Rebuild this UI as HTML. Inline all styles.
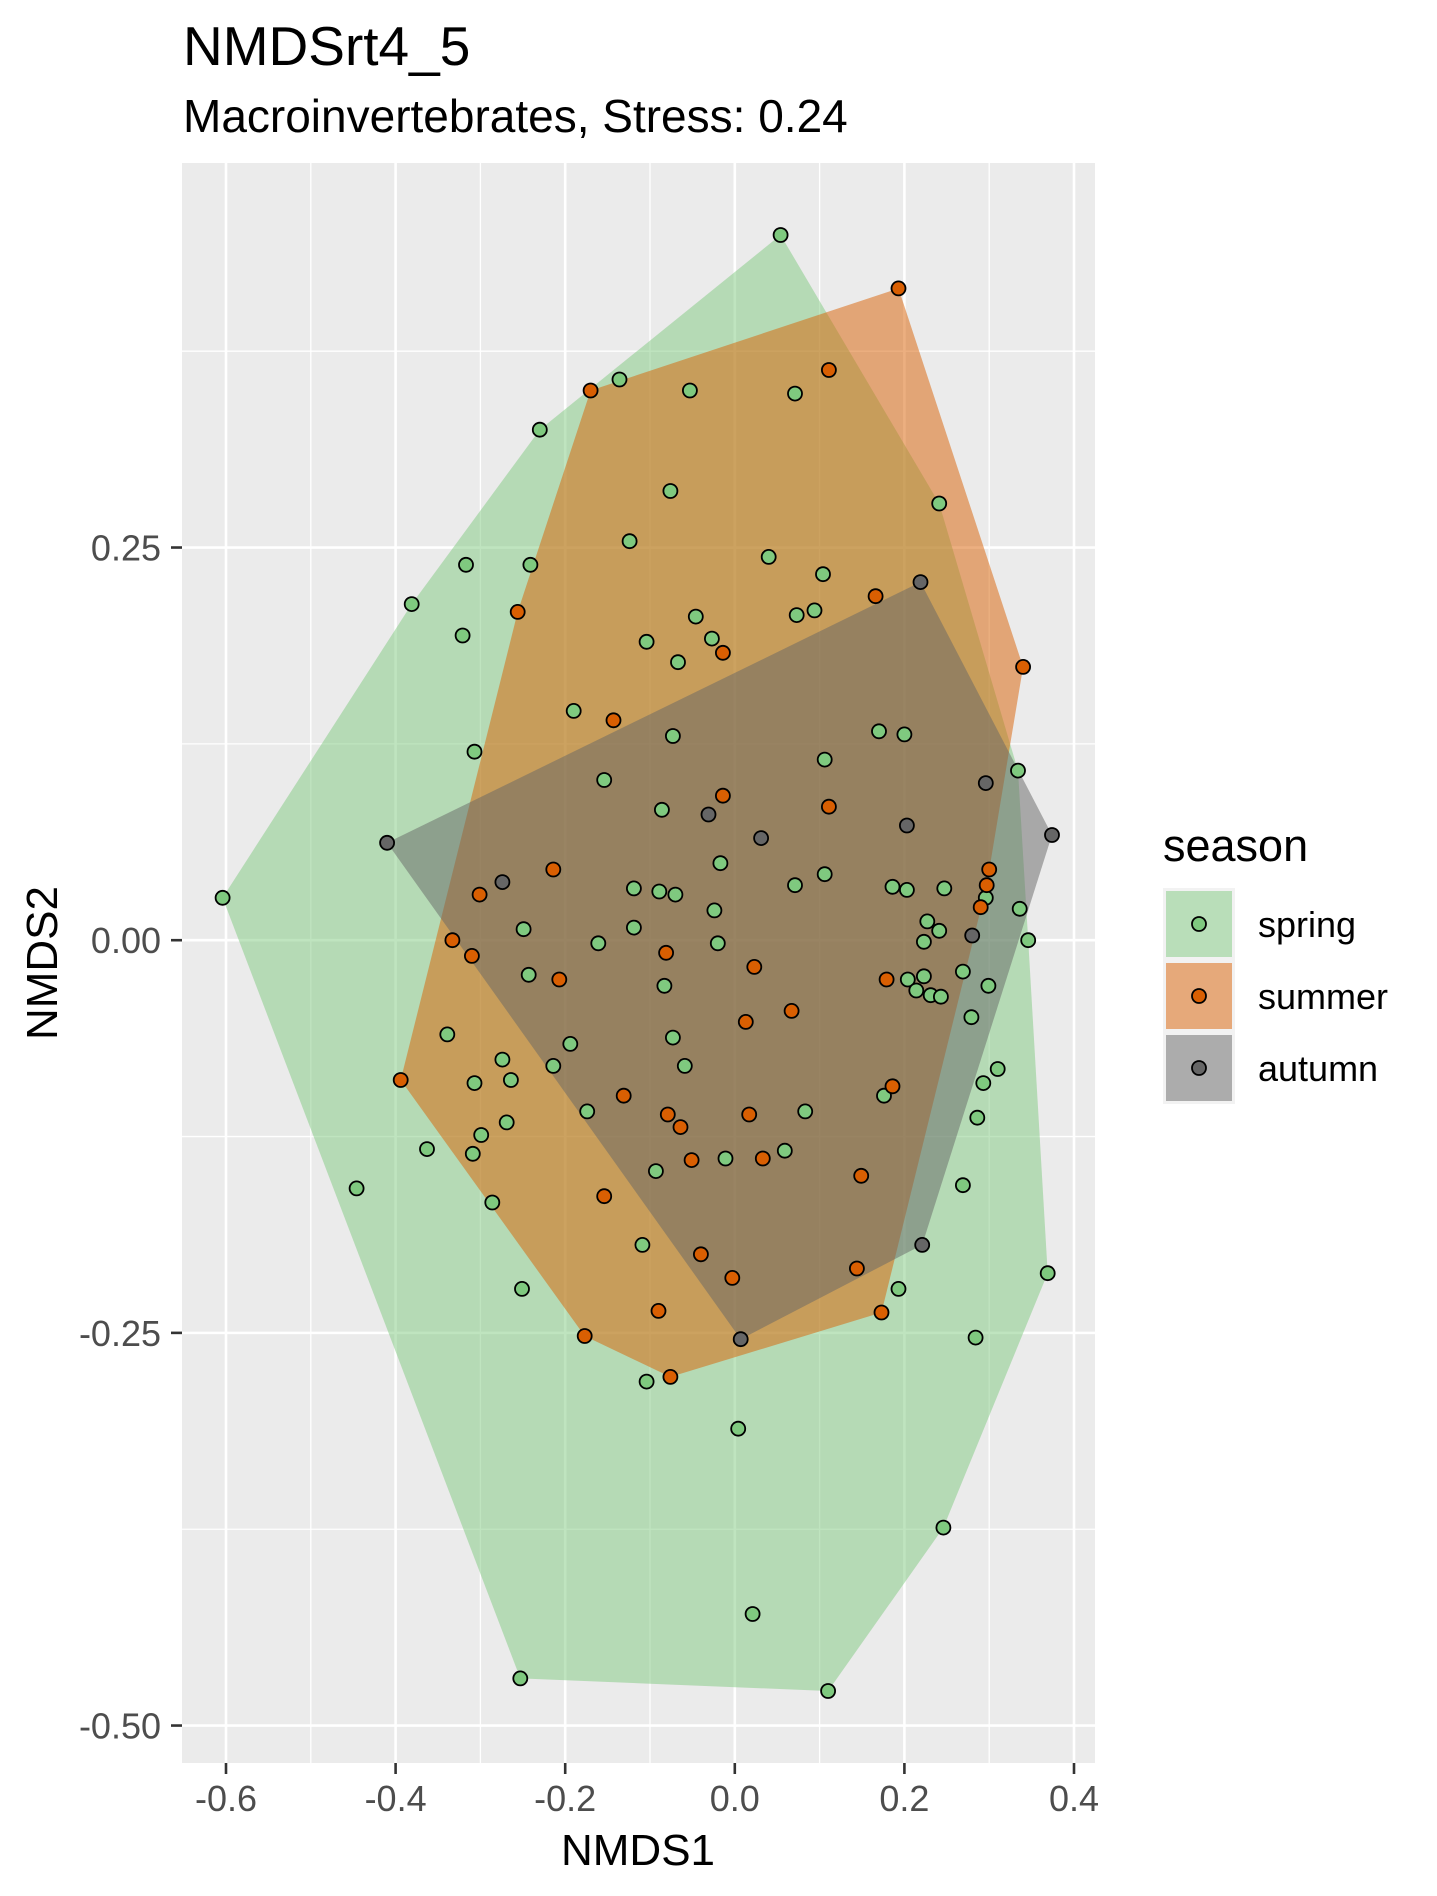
<!DOCTYPE html>
<html><head><meta charset="utf-8"><style>
html,body{margin:0;padding:0;background:#fff;}
svg{display:block;font-family:"Liberation Sans",Arial,sans-serif;}
</style></head>
<body>
<svg id="chart" width="1437" height="1896" viewBox="0 0 1437 1896">
  <text x="183" y="65" font-size="55" fill="#000">NMDSrt4_5</text>
  <text x="183" y="132" font-size="46" fill="#000">Macroinvertebrates, Stress: 0.24</text>
  <rect x="182" y="163" width="913" height="1600" fill="#ebebeb"/>
  <g id="grid"></g>
  <g id="hulls"></g>
  <g id="points"></g>
  <g id="axes"></g>
  <text x="638" y="1865" font-size="44" text-anchor="middle" fill="#000">NMDS1</text>
  <text transform="translate(57,963) rotate(-90)" font-size="44" text-anchor="middle" fill="#000">NMDS2</text>
  <g>
    <text x="1163" y="861" font-size="45" fill="#000">season</text>
    <rect x="1163" y="888" width="72" height="216" fill="#f2f2f2"/>
    <g>
      <rect x="1166" y="891" width="66" height="66" fill="#7fc97f" fill-opacity="0.5"/>
      <circle cx="1199" cy="924" r="7" fill="#7fc97f" stroke="#000" stroke-width="1.8"/>
      <text x="1258" y="937" font-size="36" fill="#000">spring</text>
    </g>
    <g>
      <rect x="1166" y="963" width="66" height="66" fill="#d95f02" fill-opacity="0.5"/>
      <circle cx="1199" cy="996" r="7" fill="#d95f02" stroke="#000" stroke-width="1.8"/>
      <text x="1258" y="1009" font-size="36" fill="#000">summer</text>
    </g>
    <g>
      <rect x="1166" y="1035" width="66" height="66" fill="#666666" fill-opacity="0.5"/>
      <circle cx="1199" cy="1068" r="7" fill="#666666" stroke="#000" stroke-width="1.8"/>
      <text x="1258" y="1081" font-size="36" fill="#000">autumn</text>
    </g>
  </g>
</svg>
<script>
const seasons = ["spring","summer","autumn"];
const springX = [0.054,-0.136,-0.053,0.071,-0.230,-0.076,0.241,-0.124,-0.317,-0.241,0.040,0.104,-0.381,-0.321,0.073,0.094,-0.046,-0.104,-0.027,-0.067,-0.190,-0.073,-0.307,-0.154,0.106,0.170,0.200,0.334,-0.086,-0.017,-0.119,-0.089,-0.070,0.071,0.106,0.186,0.203,0.247,-0.024,-0.249,-0.119,-0.161,-0.020,0.227,0.241,0.223,0.296,0.336,0.346,-0.243,-0.083,0.204,0.223,0.214,0.231,0.243,0.269,0.299,-0.339,-0.073,-0.194,-0.274,-0.307,-0.264,-0.214,-0.059,0.279,0.293,0.310,-0.174,0.083,0.176,-0.363,-0.299,-0.309,-0.269,-0.011,0.059,-0.093,-0.446,-0.286,0.269,0.286,-0.109,-0.251,0.193,0.369,0.284,-0.104,0.004,0.246,0.021,-0.253,0.110,-0.604];
const springY = [0.449,0.357,0.350,0.348,0.325,0.286,0.278,0.254,0.239,0.239,0.244,0.233,0.214,0.194,0.207,0.210,0.206,0.190,0.192,0.177,0.146,0.130,0.120,0.102,0.115,0.133,0.131,0.108,0.083,0.049,0.033,0.031,0.029,0.035,0.042,0.034,0.032,0.033,0.019,0.007,0.008,-0.002,-0.002,0.012,0.006,-0.001,0.027,0.020,0.000,-0.022,-0.029,-0.025,-0.023,-0.032,-0.035,-0.036,-0.020,-0.029,-0.060,-0.062,-0.066,-0.076,-0.091,-0.089,-0.080,-0.080,-0.049,-0.091,-0.082,-0.109,-0.109,-0.099,-0.133,-0.124,-0.136,-0.116,-0.139,-0.134,-0.147,-0.158,-0.167,-0.156,-0.113,-0.194,-0.222,-0.222,-0.212,-0.253,-0.281,-0.311,-0.374,-0.429,-0.470,-0.478,0.027];
const summerX = [0.193,0.111,-0.170,0.166,-0.256,-0.014,0.340,-0.143,-0.014,0.111,-0.214,-0.301,0.300,0.297,0.290,-0.333,-0.310,-0.081,0.023,-0.207,0.179,0.067,0.013,-0.394,-0.131,0.186,-0.079,0.017,-0.064,-0.051,0.033,-0.154,0.149,-0.040,-0.003,0.144,-0.090,0.173,-0.177,-0.076];
const summerY = [0.415,0.363,0.350,0.219,0.209,0.183,0.174,0.140,0.092,0.085,0.045,0.029,0.045,0.035,0.021,0.000,-0.010,-0.008,-0.017,-0.025,-0.025,-0.045,-0.052,-0.089,-0.099,-0.093,-0.111,-0.111,-0.119,-0.140,-0.139,-0.163,-0.150,-0.200,-0.215,-0.209,-0.236,-0.237,-0.252,-0.278];
const autumnX = [0.219,-0.410,-0.031,0.031,0.203,0.296,0.374,-0.274,0.280,0.221,0.007];
const autumnY = [0.228,0.062,0.080,0.065,0.073,0.100,0.067,0.037,0.003,-0.194,-0.254];
const xTicks = [-0.6,-0.4,-0.2,0.0,0.2,0.4];
const xTickLabels = ["-0.6","-0.4","-0.2","0.0","0.2","0.4"];
const yTicks = [-0.5,-0.25,0,0.25];
const yTickLabels = ["-0.50","-0.25","0.00","0.25"];

const NS = "http://www.w3.org/2000/svg";
const L=182,R=1095,T=163,B=1763;
function sx(v){return 734.8 + 848*v;}
function sy(v){return 940.2 - 1570.7*v;}
function mk(tag, attrs, parent){const e=document.createElementNS(NS,tag);for(const k in attrs)e.setAttribute(k,attrs[k]);parent.appendChild(e);return e;}
const fills = {spring:"#7fc97f", summer:"#d95f02", autumn:"#666666"};
const data = {spring:[springX,springY], summer:[summerX,summerY], autumn:[autumnX,autumnY]};

const grid=document.getElementById('grid');
// minor gridlines
for(let i=0;i<xTicks.length-1;i++){const m=(xTicks[i]+xTicks[i+1])/2;
  const l=mk('line',{x1:sx(m),x2:sx(m),y1:T,y2:B,stroke:"#fff","stroke-width":1.3},grid);
  
  }
{const m=xTicks[xTicks.length-1]+0.1; if(sx(m)<R){const l=mk('line',{x1:sx(m),x2:sx(m),y1:T,y2:B,stroke:"#fff","stroke-width":1.3},grid);
  
  }}
const yMinor=[-0.375,-0.125,0.125,0.375];
for(const m of yMinor){const l=mk('line',{x1:L,x2:R,y1:sy(m),y2:sy(m),stroke:"#fff","stroke-width":1.3},grid);
  
  }
for(const v of xTicks){const l=mk('line',{x1:sx(v),x2:sx(v),y1:T,y2:B,stroke:"#fff","stroke-width":2.6},grid);
  
  }
for(const v of yTicks){const l=mk('line',{x1:L,x2:R,y1:sy(v),y2:sy(v),stroke:"#fff","stroke-width":2.6},grid);
  
  }

function hull(pts){
  pts=pts.slice().sort((a,b)=>a[0]-b[0]||a[1]-b[1]);
  const cr=(o,a,b)=>(a[0]-o[0])*(b[1]-o[1])-(a[1]-o[1])*(b[0]-o[0]);
  const lo=[],up=[];
  for(const p of pts){while(lo.length>=2&&cr(lo[lo.length-2],lo[lo.length-1],p)<=0)lo.pop();lo.push(p);}
  for(let i=pts.length-1;i>=0;i--){const p=pts[i];while(up.length>=2&&cr(up[up.length-2],up[up.length-1],p)<=0)up.pop();up.push(p);}
  up.pop();lo.pop();return lo.concat(up);
}
const hg=document.getElementById('hulls');
for(const s of seasons){
  const [xs,ys]=data[s];
  const pts=xs.map((x,i)=>[sx(x),sy(ys[i])]);
  const h=hull(pts);
  const p=mk('polygon',{points:h.map(q=>q[0].toFixed(1)+","+q[1].toFixed(1)).join(" "),fill:fills[s],"fill-opacity":0.5},hg);
  
  
}
const pg=document.getElementById('points');
for(const s of seasons){
  const [xs,ys]=data[s];
  xs.forEach((x,i)=>{
    const c=mk('circle',{cx:sx(x).toFixed(1),cy:sy(ys[i]).toFixed(1),r:7,fill:fills[s],stroke:"#000","stroke-width":1.8},pg);
    
    
  });
}
const ax=document.getElementById('axes');
xTicks.forEach((v,i)=>{
  const t=mk('line',{x1:sx(v),x2:sx(v),y1:B,y2:B+11,stroke:"#333","stroke-width":2.6},ax);
  
  
  const tx=mk('text',{x:sx(v),y:1811,"font-size":36,"text-anchor":"middle",fill:"#4d4d4d"},ax);
  tx.textContent=xTickLabels[i];
  
  
});
yTicks.forEach((v,i)=>{
  const t=mk('line',{x1:L-11,x2:L,y1:sy(v),y2:sy(v),stroke:"#333","stroke-width":2.6},ax);
  
  
  const tx=mk('text',{x:161,y:sy(v)+13,"font-size":36,"text-anchor":"end",fill:"#4d4d4d"},ax);
  tx.textContent=yTickLabels[i];
  
  
});
</script>
</body></html>
